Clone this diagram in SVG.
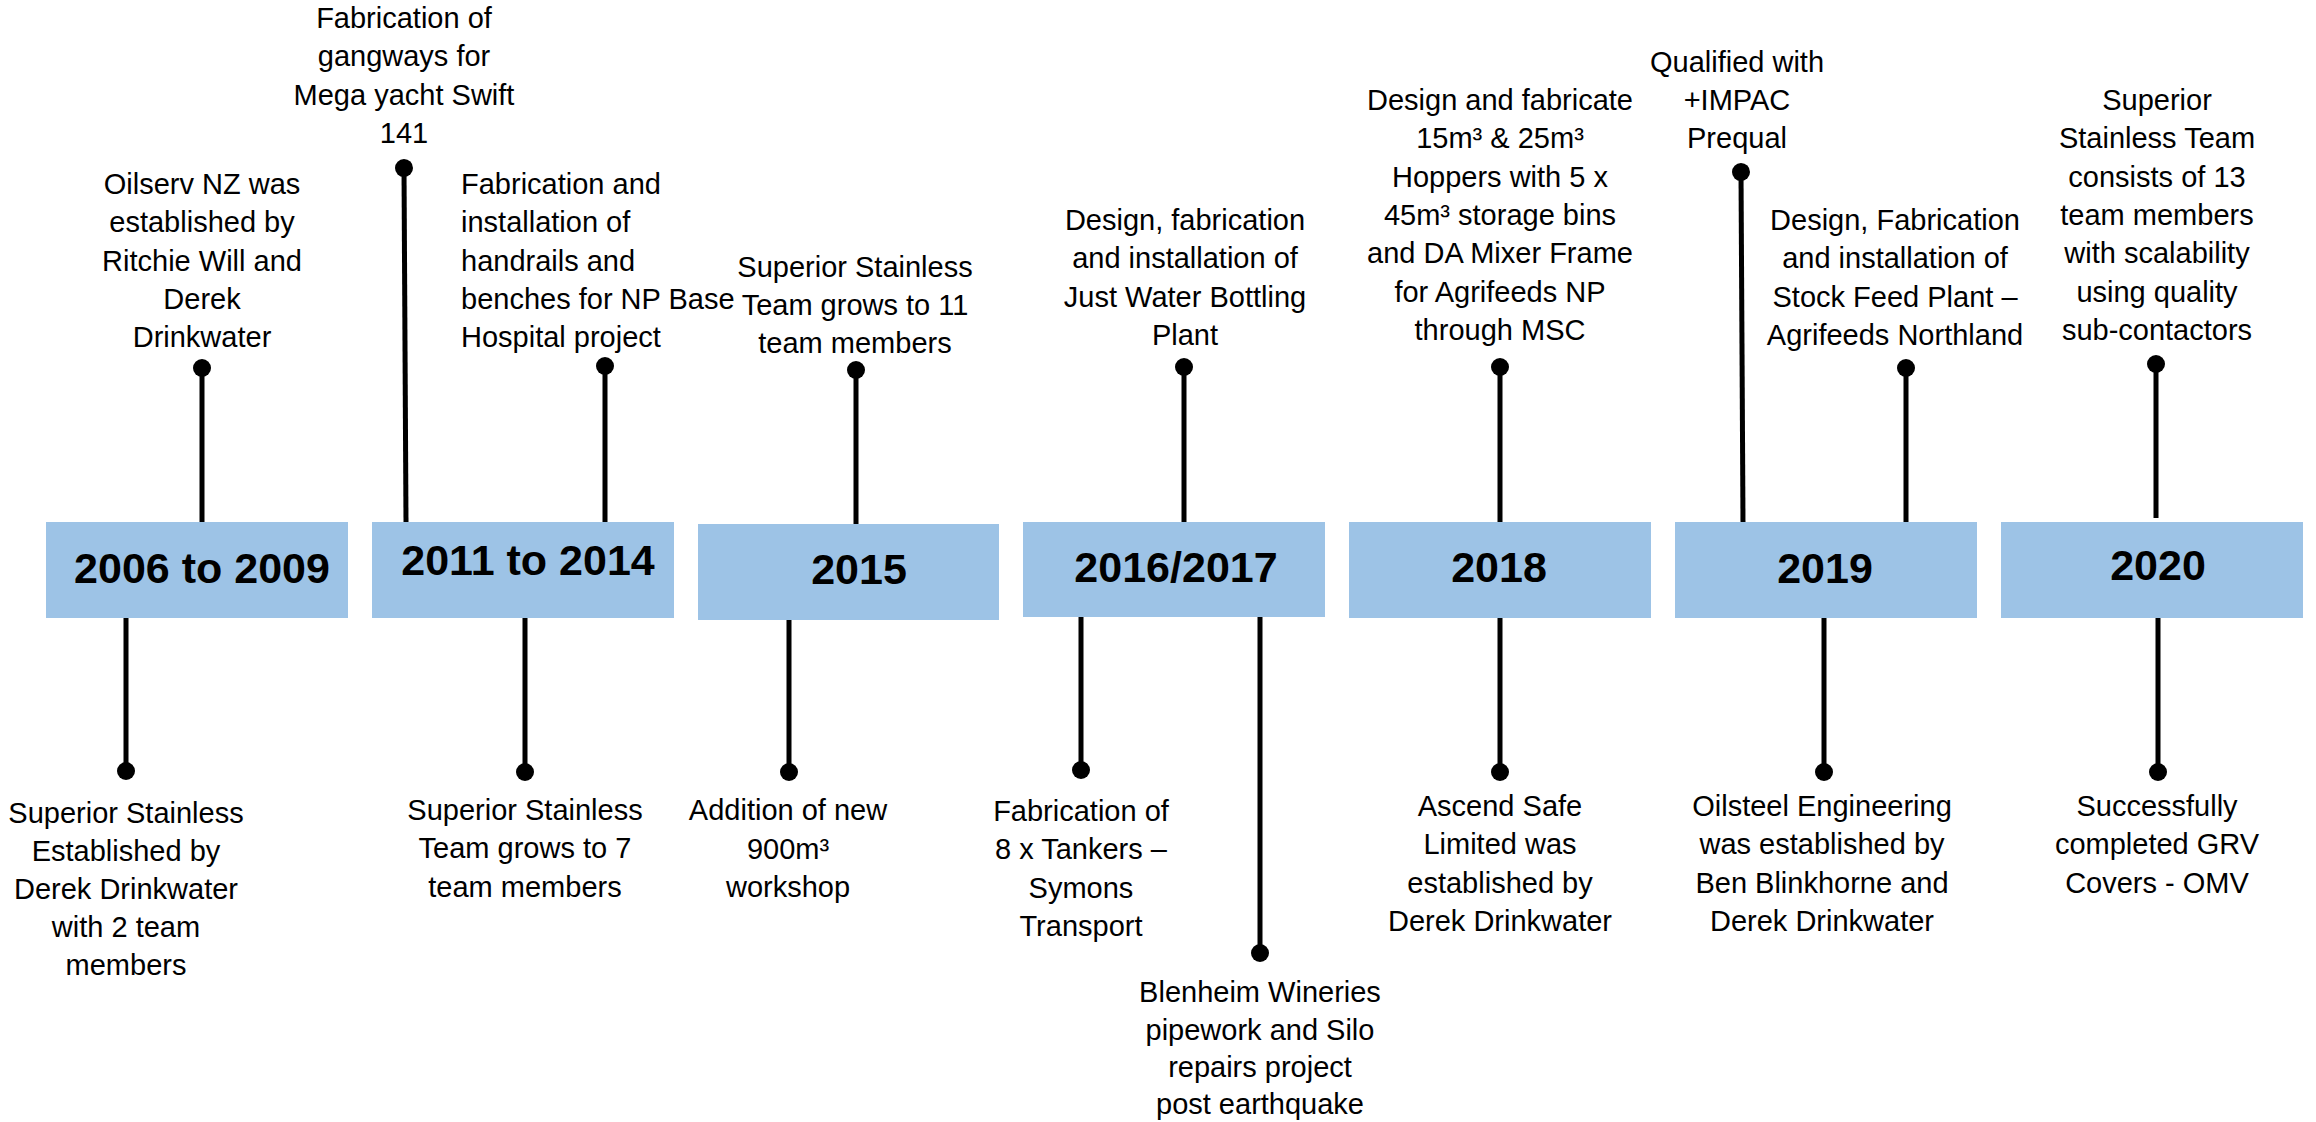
<svg xmlns="http://www.w3.org/2000/svg" width="2316" height="1122" viewBox="0 0 2316 1122">
<defs>
<style>
.box{fill:#9DC3E6;}
.yr{font-family:"Liberation Sans",Arial,sans-serif;font-weight:bold;font-size:43px;fill:#000;text-anchor:middle;}
.ev{font-family:"Liberation Sans",Arial,sans-serif;font-size:29px;fill:#000;text-anchor:middle;}
.evl{font-family:"Liberation Sans",Arial,sans-serif;font-size:29px;fill:#000;text-anchor:start;}
.conn line{stroke:#000;stroke-width:5;marker-start:url(#dot);}
</style>
<marker id="dot" viewBox="-10 -10 20 20" refX="0" refY="0" markerWidth="20" markerHeight="20" markerUnits="userSpaceOnUse" orient="auto">
<circle cx="0" cy="0" r="9" fill="#000"/>
</marker>
</defs>
<rect width="2316" height="1122" fill="#fff"/>

<g id="connectors" class="conn">
<line x1="202" y1="368" x2="202" y2="522"/>
<line x1="404" y1="168" x2="406" y2="522"/>
<line x1="605" y1="366" x2="605" y2="522"/>
<line x1="856" y1="370" x2="856" y2="524"/>
<line x1="1184" y1="367" x2="1184" y2="522"/>
<line x1="1500" y1="367" x2="1500" y2="522"/>
<line x1="1741" y1="172" x2="1743" y2="525"/>
<line x1="1906" y1="368" x2="1906" y2="522"/>
<line x1="2156" y1="364" x2="2156" y2="518"/>
<line x1="126" y1="771" x2="126" y2="616"/>
<line x1="525" y1="772" x2="525" y2="618"/>
<line x1="789" y1="772" x2="789" y2="620"/>
<line x1="1081" y1="770" x2="1081" y2="617"/>
<line x1="1260" y1="953" x2="1260" y2="617"/>
<line x1="1500" y1="772" x2="1500" y2="618"/>
<line x1="1824" y1="772" x2="1824" y2="618"/>
<line x1="2158" y1="772" x2="2158" y2="618"/>
</g>

<g id="y2006"><rect class="box" x="46" y="522" width="302" height="96"/><text class="yr" x="202" y="583">2006 to 2009</text></g>
<g id="y2011"><rect class="box" x="372" y="522" width="302" height="96"/><text class="yr" x="528" y="575">2011 to 2014</text></g>
<g id="y2015"><rect class="box" x="698" y="524" width="301" height="96"/><text class="yr" x="859" y="584">2015</text></g>
<g id="y2016"><rect class="box" x="1023" y="522" width="302" height="95"/><text class="yr" x="1176" y="582">2016/2017</text></g>
<g id="y2018"><rect class="box" x="1349" y="522" width="302" height="96"/><text class="yr" x="1499" y="582">2018</text></g>
<g id="y2019"><rect class="box" x="1675" y="522" width="302" height="96"/><text class="yr" x="1825" y="583">2019</text></g>
<g id="y2020"><rect class="box" x="2001" y="522" width="302" height="96"/><text class="yr" x="2158" y="580">2020</text></g>

<g id="ev-oilserv"><text class="ev"><tspan x="202" y="194">Oilserv NZ was</tspan><tspan x="202" y="232">established by</tspan><tspan x="202" y="271">Ritchie Will and</tspan><tspan x="202" y="309">Derek</tspan><tspan x="202" y="347">Drinkwater</tspan></text></g>
<g id="ev-gangways"><text class="ev"><tspan x="404" y="28">Fabrication of</tspan><tspan x="404" y="66">gangways for</tspan><tspan x="404" y="105">Mega yacht Swift</tspan><tspan x="404" y="143">141</tspan></text></g>
<g id="ev-handrails"><text class="evl"><tspan x="461" y="194">Fabrication and</tspan><tspan x="461" y="232">installation of</tspan><tspan x="461" y="271">handrails and</tspan><tspan x="461" y="309">benches for NP Base</tspan><tspan x="461" y="347">Hospital project</tspan></text></g>
<g id="ev-team11"><text class="ev"><tspan x="855" y="277">Superior Stainless</tspan><tspan x="855" y="315">Team grows to 11</tspan><tspan x="855" y="353">team members</tspan></text></g>
<g id="ev-justwater"><text class="ev"><tspan x="1185" y="230">Design, fabrication</tspan><tspan x="1185" y="268">and installation of</tspan><tspan x="1185" y="307">Just Water Bottling</tspan><tspan x="1185" y="345">Plant</tspan></text></g>
<g id="ev-hoppers"><text class="ev"><tspan x="1500" y="110">Design and fabricate</tspan><tspan x="1500" y="148">15m³ &amp; 25m³</tspan><tspan x="1500" y="187">Hoppers with 5 x</tspan><tspan x="1500" y="225">45m³ storage bins</tspan><tspan x="1500" y="263">and DA Mixer Frame</tspan><tspan x="1500" y="302">for Agrifeeds NP</tspan><tspan x="1500" y="340">through MSC</tspan></text></g>
<g id="ev-impac"><text class="ev"><tspan x="1737" y="72">Qualified with</tspan><tspan x="1737" y="110">+IMPAC</tspan><tspan x="1737" y="148">Prequal</tspan></text></g>
<g id="ev-stockfeed"><text class="ev"><tspan x="1895" y="230">Design, Fabrication</tspan><tspan x="1895" y="268">and installation of</tspan><tspan x="1895" y="307">Stock Feed Plant –</tspan><tspan x="1895" y="345">Agrifeeds Northland</tspan></text></g>
<g id="ev-team13"><text class="ev"><tspan x="2157" y="110">Superior</tspan><tspan x="2157" y="148">Stainless Team</tspan><tspan x="2157" y="187">consists of 13</tspan><tspan x="2157" y="225">team members</tspan><tspan x="2157" y="263">with scalability</tspan><tspan x="2157" y="302">using quality</tspan><tspan x="2157" y="340">sub-contactors</tspan></text></g>

<g id="ev-established"><text class="ev"><tspan x="126" y="823">Superior Stainless</tspan><tspan x="126" y="861">Established by</tspan><tspan x="126" y="899">Derek Drinkwater</tspan><tspan x="126" y="937">with 2 team</tspan><tspan x="126" y="975">members</tspan></text></g>
<g id="ev-team7"><text class="ev"><tspan x="525" y="820">Superior Stainless</tspan><tspan x="525" y="858">Team grows to 7</tspan><tspan x="525" y="897">team members</tspan></text></g>
<g id="ev-workshop"><text class="ev"><tspan x="788" y="820">Addition of new</tspan><tspan x="788" y="859">900m³</tspan><tspan x="788" y="897">workshop</tspan></text></g>
<g id="ev-tankers"><text class="ev"><tspan x="1081" y="821">Fabrication of</tspan><tspan x="1081" y="859">8 x Tankers –</tspan><tspan x="1081" y="898">Symons</tspan><tspan x="1081" y="936">Transport</tspan></text></g>
<g id="ev-blenheim"><text class="ev"><tspan x="1260" y="1002">Blenheim Wineries</tspan><tspan x="1260" y="1040">pipework and Silo</tspan><tspan x="1260" y="1077">repairs project</tspan><tspan x="1260" y="1114">post earthquake</tspan></text></g>
<g id="ev-ascend"><text class="ev"><tspan x="1500" y="816">Ascend Safe</tspan><tspan x="1500" y="854">Limited was</tspan><tspan x="1500" y="893">established by</tspan><tspan x="1500" y="931">Derek Drinkwater</tspan></text></g>
<g id="ev-oilsteel"><text class="ev"><tspan x="1822" y="816">Oilsteel Engineering</tspan><tspan x="1822" y="854">was established by</tspan><tspan x="1822" y="893">Ben Blinkhorne and</tspan><tspan x="1822" y="931">Derek Drinkwater</tspan></text></g>
<g id="ev-grv"><text class="ev"><tspan x="2157" y="816">Successfully</tspan><tspan x="2157" y="854">completed GRV</tspan><tspan x="2157" y="893">Covers - OMV</tspan></text></g>
</svg>
